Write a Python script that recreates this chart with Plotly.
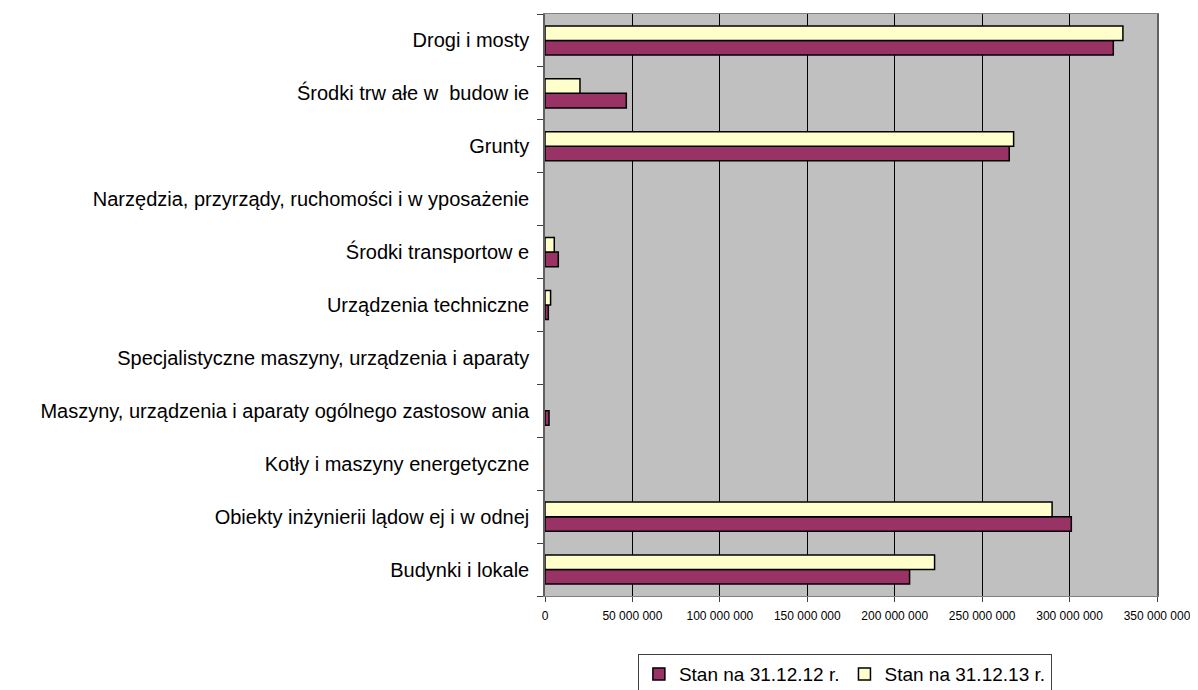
import plotly.graph_objects as go

categories = [
    "Budynki i lokale",
    "Obiekty inżynierii lądow ej i w odnej",
    "Kotły i maszyny energetyczne",
    "Maszyny, urządzenia i aparaty ogólnego zastosow ania",
    "Specjalistyczne maszyny, urządzenia i aparaty",
    "Urządzenia techniczne",
    "Środki transportow e",
    "Narzędzia, przyrządy, ruchomości i w yposażenie",
    "Grunty",
    "Środki trw ałe w  budow ie",
    "Drogi i mosty",
]
stan_2012 = [208_500_000, 301_000_000, 0, 2_300_000, 0, 1_900_000, 7_600_000, 0, 265_500_000, 46_500_000, 325_000_000]
stan_2013 = [222_800_000, 290_000_000, 0, 0, 0, 3_200_000, 5_300_000, 0, 268_000_000, 20_000_000, 330_500_000]
series_names = ["Stan na 31.12.12 r.", "Stan na 31.12.13 r."]
tick_vals = [0, 50_000_000, 100_000_000, 150_000_000, 200_000_000, 250_000_000, 300_000_000, 350_000_000]
tick_text = ["0", "50 000 000", "100 000 000", "150 000 000", "200 000 000", "250 000 000", "300 000 000", "350 000 000"]


def outline(values):
    return [1.5 if v else 0 for v in values]


fig = go.Figure()
fig.add_trace(go.Bar(y=categories, x=stan_2012, orientation="h", name=series_names[0],
                     marker=dict(color="#993366", line=dict(color="black", width=outline(stan_2012)))))
fig.add_trace(go.Bar(y=categories, x=stan_2013, orientation="h", name=series_names[1],
                     marker=dict(color="#FFFFCC", line=dict(color="black", width=outline(stan_2013)))))

fig.update_layout(
    width=1198, height=690,
    barmode="group", bargap=0.45, bargroupgap=0,
    plot_bgcolor="#C0C0C0", paper_bgcolor="white",
    margin=dict(l=537, r=49, t=6, b=102, autoexpand=False),
    font=dict(family="Liberation Sans, Arial, sans-serif", color="black"),
    legend=dict(orientation="h", x=0.49, xanchor="center", y=-0.0997, yanchor="top",
                bordercolor="#404040", borderwidth=1, bgcolor="white",
                font=dict(size=19), traceorder="normal", itemwidth=30),
    xaxis=dict(range=[0, 350_000_000], tickvals=tick_vals, ticktext=tick_text,
               showgrid=True, gridcolor="black", gridwidth=1, zeroline=False,
               showline=True, linecolor="#808080", linewidth=1, mirror=True,
               ticks="outside", ticklen=5, tickcolor="#404040", automargin=False,
               ticklabelstandoff=4,
               tickfont=dict(family="Liberation Sans Narrow, Arial Narrow, Liberation Sans", size=12)),
    yaxis=dict(categoryorder="array", categoryarray=categories,
               showgrid=False, showline=True, linecolor="#606060", linewidth=1.5, mirror=True,
               ticks="outside", ticklen=6, tickcolor="#404040", tickson="boundaries",
               automargin=False, ticklabelstandoff=10,
               tickfont=dict(size=20)),
)

fig.write_html("out.html")
